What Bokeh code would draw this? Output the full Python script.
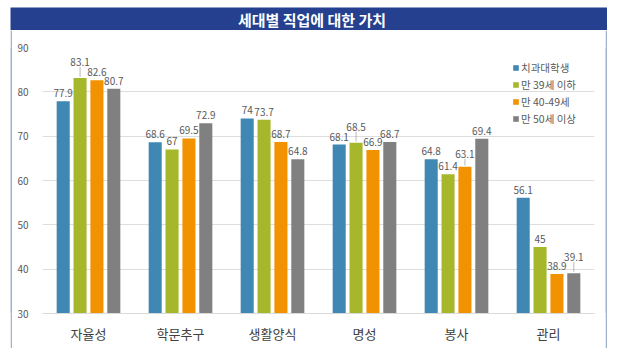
from bokeh.plotting import figure
from bokeh.models import (ColumnDataSource, Range1d, FactorRange, Legend, LegendItem,
                          FixedTicker, Spacer)
from bokeh.layouts import row, column
from bokeh.transform import dodge
from bokeh.core.properties import value
from bokeh.embed import file_html
from bokeh.resources import INLINE

categories = ["자율성", "학문추구", "생활양식", "명성", "봉사", "관리"]
series_names = ["치과대학생", "만 39세 이하", "만 40-49세", "만 50세 이상"]
students = [77.9, 68.6, 74, 68.1, 64.8, 56.1]
under39 = [83.1, 67, 73.7, 68.5, 61.4, 45]
age40_49 = [82.6, 69.5, 68.7, 66.9, 63.1, 38.9]
over50 = [80.7, 72.9, 64.8, 68.7, 69.4, 39.1]
y_ticks = [30, 40, 50, 60, 70, 80, 90]
title_text = "세대별 직업에 대한 가치"

series = [students, under39, age40_49, over50]
colors = ["#3F88B4", "#A6B72B", "#F39200", "#808080"]
offsets = [-0.275, -0.0917, 0.0917, 0.275]
# extra label lift in px (labels with leader lines)
extra_lift = [
    [0, 0, 0, 0, 0, 0],
    [8, 0, 0, 8, 0, 0],
    [0, 0, 0, 0, 5, 0],
    [0, 0, 0, 0, 0, 8],
]
FONT = "Noto Sans CJK KR"
PX_PER_UNIT = 266 / 60.0
BORDER = "#A3B2CC"
NAVY = "#24408E"

INNER_W = 597
MAIN_H = 318


def blank(w, h, color):
    f = figure(width=w, height=h, output_backend="svg", toolbar_location=None,
               min_border=0, outline_line_color=None, x_axis_type=None, y_axis_type=None,
               background_fill_color=color, border_fill_color=color,
               x_range=Range1d(0, 1), y_range=Range1d(0, 1))
    f.grid.grid_line_color = None
    return f


# title bar
tfig = blank(INNER_W, 23, NAVY)
tfig.text(x=[0.505], y=[0.5], text=[title_text], text_align="center", text_baseline="middle",
          text_color="white", text_font=value(FONT), text_font_style="bold",
          text_font_size="15px")

p = figure(width=INNER_W - 4, height=MAIN_H, x_range=FactorRange(*categories),
           y_range=Range1d(30, 90), output_backend="svg", toolbar_location=None,
           min_border_left=30, min_border_right=11, min_border_top=17, min_border_bottom=35,
           outline_line_color=None, background_fill_color="white", border_fill_color="white")

items = []
for i, (vals, col, off, name) in enumerate(zip(series, colors, offsets, series_names)):
    lifts = extra_lift[i]
    src = ColumnDataSource(dict(
        x=categories, top=vals,
        lbl=[("%g" % v) for v in vals],
        ly=[v + (4 + e) / PX_PER_UNIT for v, e in zip(vals, lifts)],
        l0=[v + 0.3 if e else v for v, e in zip(vals, lifts)],
        l1=[v + (e + 3) / PX_PER_UNIT if e else v for v, e in zip(vals, lifts)],
    ))
    r = p.vbar(x=dodge("x", off, range=p.x_range), top="top", bottom=30, width=0.142,
               source=src, fill_color=col, line_color=None)
    items.append(LegendItem(label=name, renderers=[r]))
    p.segment(x0=dodge("x", off, range=p.x_range), x1=dodge("x", off, range=p.x_range),
              y0="l0", y1="l1", source=src, line_color="#A6A6A6", line_width=0.8)
    p.text(x=dodge("x", off, range=p.x_range), y="ly", text="lbl", source=src,
           text_align="center", text_baseline="bottom", text_font=value(FONT),
           text_font_size="10px", text_color="#595959")

legend = Legend(items=items, location=(470, 187), orientation="vertical",
                glyph_width=7, glyph_height=7, label_height=12, spacing=2,
                label_standoff=2, padding=0, margin=0, border_line_color=None,
                background_fill_alpha=0, label_text_font=FONT,
                label_text_font_size="10.5px", label_text_color="#595959")
p.add_layout(legend, "center")

p.xgrid.grid_line_color = None
p.ygrid.grid_line_color = "#DDDDDD"
p.ygrid.ticker = FixedTicker(ticks=y_ticks)
p.yaxis.ticker = FixedTicker(ticks=y_ticks)
p.yaxis.axis_line_color = None
p.yaxis.major_tick_line_color = None
p.yaxis.minor_tick_line_color = None
p.yaxis.major_label_standoff = 8
p.yaxis.major_label_text_font = FONT
p.yaxis.major_label_text_font_size = "10px"
p.yaxis.major_label_text_color = "#595959"

p.xaxis.axis_line_color = "#D9D9D9"
p.xaxis.major_tick_line_color = None
p.xaxis.minor_tick_line_color = None
p.xaxis.major_label_standoff = 4
p.xaxis.major_label_text_font = FONT
p.xaxis.major_label_text_font_size = "13px"
p.xaxis.major_label_text_color = "#404040"

left_line = blank(2, MAIN_H, BORDER)
right_line = blank(2, MAIN_H, BORDER)
bottom_line = blank(INNER_W, 2, BORDER)

layout = row(Spacer(width=10, height=10),
             column(Spacer(width=10, height=7), tfig,
                    row(left_line, p, right_line, spacing=0),
                    bottom_line, spacing=0),
             spacing=0)

open("out.html", "w").write(file_html(layout, INLINE))
